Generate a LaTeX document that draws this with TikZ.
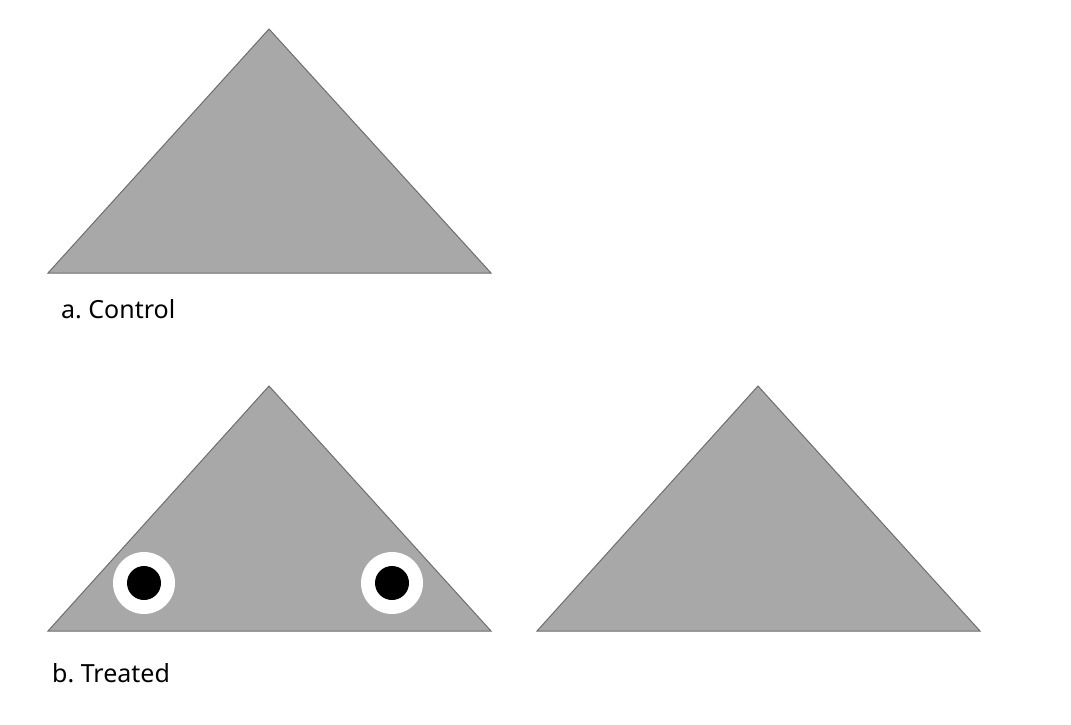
\documentclass[tikz,border=0pt]{standalone}
\usepackage{fontspec}
\setmainfont{Noto Sans}
\usetikzlibrary{positioning}
\definecolor{tricol}{RGB}{168,168,168}
\definecolor{triline}{RGB}{110,110,110}
\frenchspacing
\begin{document}
\begin{tikzpicture}[x=1pt,y=-1pt,
        tri/.style={fill=tricol, draw=triline, line width=1pt, line join=miter},
        eye/.style={fill=white, draw=none},
        pupil/.style={fill=black, draw=none},
        lab/.style={anchor=base west, inner sep=0pt, font=\fontsize{25}{30}\selectfont}]
        \useasboundingbox (0,0) rectangle (1071,724);
        %triangolo controllo
            \draw[tri] (48,273)-- (269,29)-- (491,273)-- cycle;
        %triangoli trattati
            \draw[tri] (48,631)-- (269,386)-- (491,631)-- cycle;
            \draw[tri] (537,631)-- (758,386)-- (980,631)-- cycle;
        %occhi
            \fill[eye] (144,583) circle (31);
            \fill[pupil] (144,583) circle (17);
            \fill[eye] (392,583) circle (31);
            \fill[pupil] (392,583) circle (17);
        %label
            \node[lab] (control) at (61,318) {a. Control};
            \node[lab] (treated) at (52,682) {b. Treated};
    \end{tikzpicture}
\end{document}
